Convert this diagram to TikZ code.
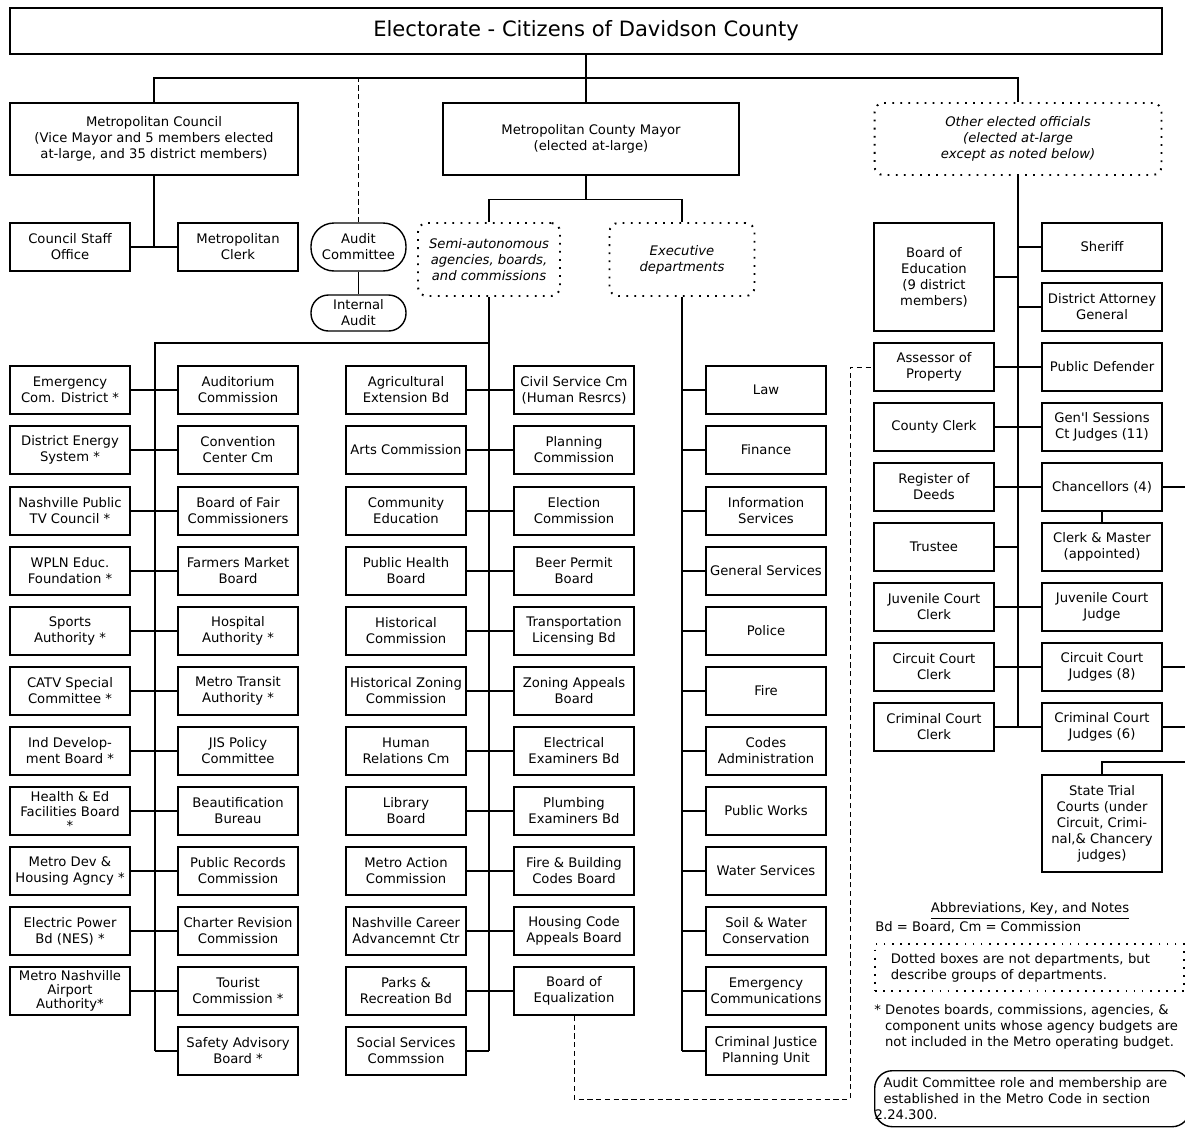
\documentclass[tikz,border=0pt]{standalone}
\usepackage{fontspec}
\setmainfont{DejaVu Sans}[Ligatures=TeXOff]
\usepackage{tikz}

\newcommand{\boxfont}{\fontsize{7.5}{9.1}\selectfont}
\newcommand{\tightfont}{\fontsize{7.5}{8.1}\selectfont}
\newcommand{\bigfont}{\fontsize{12}{14}\selectfont}

\tikzset{
  box/.style={draw, line width=0.8pt, align=center, minimum width=2.4cm, minimum height=0.96cm, inner sep=0.5pt, font=\boxfont},
  grp/.style={draw, line width=1.1pt, dash pattern=on 1pt off 3.6pt, rounded corners=5pt, align=center, inner sep=1pt, font=\boxfont\itshape},
  pill/.style={draw, line width=0.8pt, align=center, minimum width=1.9cm, inner sep=0.5pt, font=\boxfont},
  note/.style={inner sep=0pt, font=\boxfont},
  link/.style={line width=0.6pt},
  trunk/.style={line width=1.2pt},
  dashline/.style={line width=0.5pt, dash pattern=on 3pt off 2pt},
}

\begin{document}
\begin{tikzpicture}[x=0.02cm, y=-0.02cm]
    \useasboundingbox (0,0) rectangle (1185,1130);
    \node[box, font=\bigfont, minimum width=23.04cm, minimum height=0.92cm] (elect) at (586,31) {Electorate - Citizens of Davidson County};
    \node[box, minimum width=5.76cm, minimum height=1.44cm] (council) at (154,139) {Metropolitan Council\\(Vice Mayor and 5 members elected\\at-large, and 35 district members)};
    \node[box, minimum width=5.92cm, minimum height=1.44cm] (mayor) at (591,139) {Metropolitan County Mayor\\(elected at-large)};
    \node[grp, minimum width=5.74cm, minimum height=1.44cm] (other) at (1018,139) {Other elected officials\\(elected at-large\\except as noted below)};
    \node[box] (staff) at (70,247) {Council Staff\\Office};
    \node[box] (clerk) at (238,247) {Metropolitan\\Clerk};
    \node[pill, minimum height=0.96cm, rounded corners=0.46cm] (audit) at (358.5,247) {Audit\\Committee};
    \node[pill, minimum height=0.72cm, rounded corners=0.35cm] (intaudit) at (358.5,313) {Internal\\Audit};
    \node[grp, minimum width=2.84cm, minimum height=1.46cm] (semi) at (489,259.5) {Semi-autonomous\\agencies, boards,\\and commissions};
    \node[grp, minimum width=2.9cm, minimum height=1.46cm] (exec) at (682,259.5) {Executive\\departments};

    \node[box] (A1) at (70,390) {Emergency\\Com. District~*};
    \node[box] (A2) at (70,450) {District Energy\\System~*};
    \node[box] (A3) at (70,511) {Nashville Public\\TV Council~*};
    \node[box] (A4) at (70,571) {WPLN Educ.\\Foundation~*};
    \node[box] (A5) at (70,631) {Sports\\Authority~*};
    \node[box] (A6) at (70,691) {CATV Special\\Committee~*};
    \node[box] (A7) at (70,751) {Ind Develop-\\ment Board~*};
    \node[box, font=\tightfont] (A8) at (70,811) {Health \& Ed\\Facilities Board\\*};
    \node[box] (A9) at (70,871) {Metro Dev \&\\Housing Agncy~*};
    \node[box] (A10) at (70,931) {Electric Power\\Bd (NES)~*};
    \node[box, font=\tightfont] (A11) at (70,991) {Metro Nashville\\Airport\\Authority*};

    \node[box] (B1) at (238,390) {Auditorium\\Commission};
    \node[box] (B2) at (238,450) {Convention\\Center Cm};
    \node[box] (B3) at (238,511) {Board of Fair\\Commissioners};
    \node[box] (B4) at (238,571) {Farmers Market\\Board};
    \node[box] (B5) at (238,631) {Hospital\\Authority~*};
    \node[box] (B6) at (238,691) {Metro Transit\\Authority~*};
    \node[box] (B7) at (238,751) {JIS Policy\\Committee};
    \node[box] (B8) at (238,811) {Beautification\\Bureau};
    \node[box] (B9) at (238,871) {Public Records\\Commission};
    \node[box] (B10) at (238,931) {Charter Revision\\Commission};
    \node[box] (B11) at (238,991) {Tourist\\Commission~*};
    \node[box] (B12) at (238,1051) {Safety Advisory\\Board~*};

    \node[box] (C1) at (406,390) {Agricultural\\Extension Bd};
    \node[box] (C2) at (406,450) {Arts Commission};
    \node[box] (C3) at (406,511) {Community\\Education};
    \node[box] (C4) at (406,571) {Public Health\\Board};
    \node[box] (C5) at (406,631) {Historical\\Commission};
    \node[box] (C6) at (406,691) {Historical Zoning\\Commission};
    \node[box] (C7) at (406,751) {Human\\Relations Cm};
    \node[box] (C8) at (406,811) {Library\\Board};
    \node[box] (C9) at (406,871) {Metro Action\\Commission};
    \node[box] (C10) at (406,931) {Nashville Career\\Advancemnt Ctr};
    \node[box] (C11) at (406,991) {Parks \&\\Recreation Bd};
    \node[box] (C12) at (406,1051) {Social Services\\Commssion};

    \node[box] (D1) at (574,390) {Civil Service Cm\\(Human Resrcs)};
    \node[box] (D2) at (574,450) {Planning\\Commission};
    \node[box] (D3) at (574,511) {Election\\Commission};
    \node[box] (D4) at (574,571) {Beer Permit\\Board};
    \node[box] (D5) at (574,631) {Transportation\\Licensing Bd};
    \node[box] (D6) at (574,691) {Zoning Appeals\\Board};
    \node[box] (D7) at (574,751) {Electrical\\Examiners Bd};
    \node[box] (D8) at (574,811) {Plumbing\\Examiners Bd};
    \node[box] (D9) at (574,871) {Fire \& Building\\Codes Board};
    \node[box] (D10) at (574,931) {Housing Code\\Appeals Board};
    \node[box] (D11) at (574,991) {Board of\\Equalization};

    \node[box] (E1) at (766,390) {Law};
    \node[box] (E2) at (766,450) {Finance};
    \node[box] (E3) at (766,511) {Information\\Services};
    \node[box] (E4) at (766,571) {General Services};
    \node[box] (E5) at (766,631) {Police};
    \node[box] (E6) at (766,691) {Fire};
    \node[box] (E7) at (766,751) {Codes\\Administration};
    \node[box] (E8) at (766,811) {Public Works};
    \node[box] (E9) at (766,871) {Water Services};
    \node[box] (E10) at (766,931) {Soil \& Water\\Conservation};
    \node[box] (E11) at (766,991) {Emergency\\Communications};
    \node[box] (E12) at (766,1051) {Criminal Justice\\Planning Unit};

    \node[box, minimum height=2.16cm] (F1) at (934,277) {Board of\\Education\\(9 district\\members)};
    \node[box] (F2) at (934,367) {Assessor of\\Property};
    \node[box] (F3) at (934,427) {County Clerk};
    \node[box] (F4) at (934,487) {Register of\\Deeds};
    \node[box] (F5) at (934,547) {Trustee};
    \node[box] (F6) at (934,607) {Juvenile Court\\Clerk};
    \node[box] (F7) at (934,667) {Circuit Court\\Clerk};
    \node[box] (F8) at (934,727) {Criminal Court\\Clerk};

    \node[box] (G1) at (1102,247) {Sheriff};
    \node[box] (G2) at (1102,307) {District Attorney\\General};
    \node[box] (G3) at (1102,367) {Public Defender};
    \node[box] (G4) at (1102,427) {Gen'l Sessions\\Ct Judges (11)};
    \node[box] (G5) at (1102,487) {Chancellors (4)};
    \node[box] (G6) at (1102,547) {Clerk \& Master\\(appointed)};
    \node[box] (G7) at (1102,607) {Juvenile Court\\Judge};
    \node[box] (G8) at (1102,667) {Circuit Court\\Judges (8)};
    \node[box] (G9) at (1102,727) {Criminal Court\\Judges (6)};
    \node[box, minimum height=1.94cm] (G10) at (1102,823.5) {State Trial\\Courts (under\\Circuit, Crimi-\\nal,\& Chancery\\judges)};

    \coordinate (topbus) at (586,78);
    \coordinate (leftbus) at (155,343);
    \coordinate (edge) at (1186,0);
    \coordinate (trial) at (1186,762);
    \coordinate (eqturn) at (850,1099);

    % top level
    \draw[trunk] (elect.south) -- (elect.south |- mayor.north);
    \draw[link] (council.north) |- (topbus) -| (other.north);
    \draw[dashline] (audit.north) -- (audit.north |- topbus);
    \draw[link] (audit.south) -- (intaudit.north);
    \draw[link] (council.south) -- (council.south |- staff.east);
    \draw[link] (staff.east) -- (clerk.west);
    \draw[trunk] (mayor.south -| elect.south) -- ++(0,24) coordinate (mb);
    \draw[link] (semi.north) |- (mb) -| (exec.north);

    % semi-autonomous
    \draw[trunk] (semi.south) -- (semi.south |- C12.east);
    \draw[link] (semi.south |- leftbus) -- (leftbus) -- (leftbus |- B12.west);
    \draw[link] (A1.east) -- (B1.west);  \draw[link] (C1.east) -- (D1.west);
    \draw[link] (A2.east) -- (B2.west);  \draw[link] (C2.east) -- (D2.west);
    \draw[link] (A3.east) -- (B3.west);  \draw[link] (C3.east) -- (D3.west);
    \draw[link] (A4.east) -- (B4.west);  \draw[link] (C4.east) -- (D4.west);
    \draw[link] (A5.east) -- (B5.west);  \draw[link] (C5.east) -- (D5.west);
    \draw[link] (A6.east) -- (B6.west);  \draw[link] (C6.east) -- (D6.west);
    \draw[link] (A7.east) -- (B7.west);  \draw[link] (C7.east) -- (D7.west);
    \draw[link] (A8.east) -- (B8.west);  \draw[link] (C8.east) -- (D8.west);
    \draw[link] (A9.east) -- (B9.west);  \draw[link] (C9.east) -- (D9.west);
    \draw[link] (A10.east) -- (B10.west);  \draw[link] (C10.east) -- (D10.west);
    \draw[link] (A11.east) -- (B11.west);  \draw[link] (C11.east) -- (D11.west);
    \draw[link] (B12.west) -- (B12.west -| leftbus);
    \draw[link] (C12.east) -- (C12.east -| semi.south);

    % executive
    \draw[trunk] (exec.south) -- (exec.south |- E12.west);
    \foreach \n in {1,...,12}
        \draw[link] (E\n.west) -- (E\n.west -| exec.south);

    % other elected
    \draw[trunk] (other.south) -- (other.south |- F8.east);
    \draw[link] (F1.east) -- (F1.east -| other.south);
    \draw[link] (G1.west) -- (G1.west -| other.south);
    \draw[link] (G2.west) -- (G2.west -| other.south);
    \draw[link] (F2.east) -- (G3.west);
    \draw[link] (F3.east) -- (G4.west);
    \draw[link] (F4.east) -- (G5.west);
    \draw[link] (F5.east) -- (F5.east -| other.south);
    \draw[link] (F6.east) -- (G7.west);
    \draw[link] (F7.east) -- (G8.west);
    \draw[link] (F8.east) -- (G9.west);
    \draw[link] (G5.south) -- (G6.north);
    \draw[link] (G5.east) -- (G5.east -| edge);
    \draw[link] (G8.east) -- (G8.east -| edge);
    \draw[link] (G9.east) -- (G9.east -| edge);
    \draw[link] (G10.north) |- (trial);
    \draw[dashline] (D11.south) |- (eqturn) |- (F2.west);

    % notes
    \node[note] (abbr) at (1030,911) {\underline{Abbreviations, Key, and Notes}};
    \node[note, anchor=west] (bd) at (875,927) {Bd = Board, Cm = Commission};
    \node[grp, font=\boxfont, rounded corners=0pt, anchor=north west, align=left, text width=5.55cm, inner xsep=9pt, minimum height=0.94cm] (dotkey) at (874,943) {Dotted boxes are not departments, but\\describe groups of departments.};
    \node[note, anchor=north west, align=left] (star) at (874,1004) {* Denotes boards, commissions, agencies, \&\\\hphantom{* }component units whose agency budgets are\\\hphantom{* }not included in the Metro operating budget.};
    \node[draw, line width=0.8pt, rounded corners=10pt, font=\boxfont, anchor=north west, align=left, text width=5.95cm, inner xsep=5pt, minimum height=1.12cm] (auditnote) at (874,1070) {Audit Committee role and membership are\\established in the Metro Code in section\\\hspace*{-5pt}2.24.300.};
\end{tikzpicture}
\end{document}
